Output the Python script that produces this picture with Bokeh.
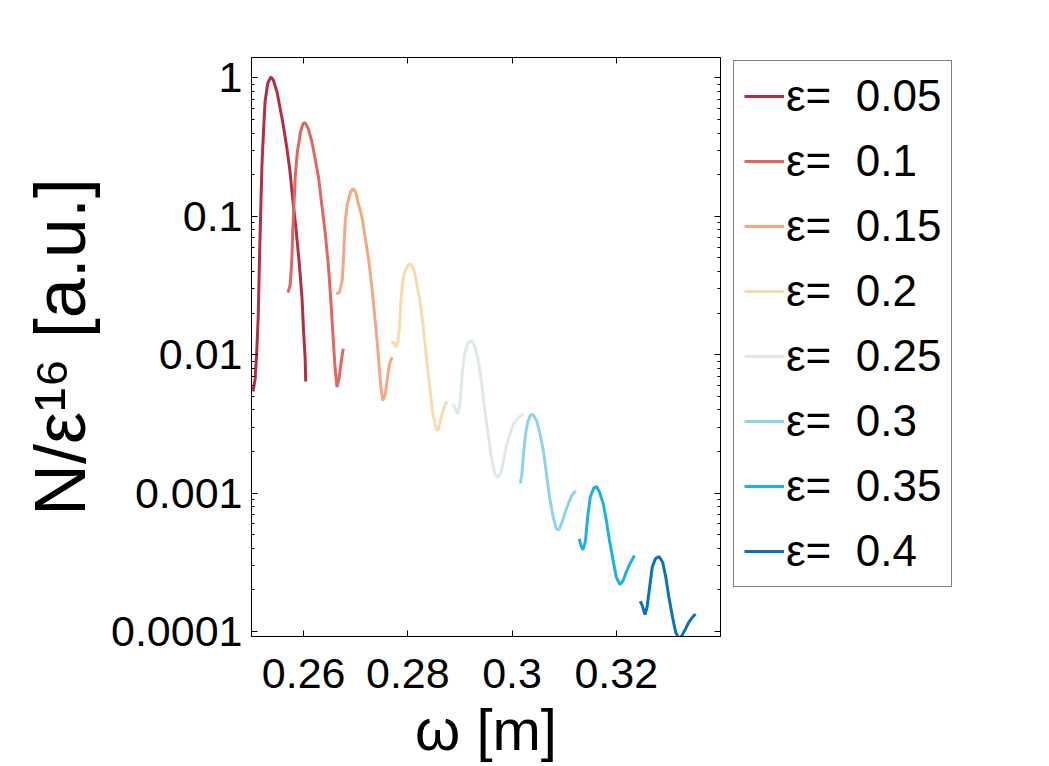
from bokeh.plotting import figure
from bokeh.layouts import row
from bokeh.models import (FixedTicker, LinearAxis, LogAxis, Legend, LegendItem,
                          Range1d, CustomJSTickFormatter)
from bokeh.embed import file_html
from bokeh.resources import INLINE

FONT = "Liberation Sans"

eps_labels = ["0.05", "0.1", "0.15", "0.2", "0.25", "0.3", "0.35", "0.4"]
colors = ["#B02F43", "#E06666", "#F3A883", "#F6DCAD", "#DDEBE2", "#8ED3EA", "#1CB1E4", "#0B72B5"]

omega_005 = [0.2503, 0.2507, 0.2510, 0.2513, 0.2515, 0.2518, 0.2520, 0.2523, 0.2526, 0.2531, 0.2537, 0.2542,
             0.2549, 0.2555, 0.2561, 0.2568, 0.2574, 0.2579, 0.2586, 0.2592, 0.2597, 0.2600, 0.2603, 0.2604]
N_005 = [0.00543, 0.00671, 0.01045, 0.01923, 0.04426, 0.1201, 0.2338, 0.407, 0.671, 0.911, 1.017, 0.9625,
         0.792, 0.6008, 0.455, 0.3087, 0.2091, 0.1343, 0.0770, 0.0442, 0.0254, 0.01457, 0.00935, 0.00641]

omega_010 = [0.2570, 0.2574, 0.2576, 0.2578, 0.2579, 0.2582, 0.2584, 0.2588, 0.2594, 0.2599, 0.2603, 0.2609,
             0.2616, 0.2622, 0.2629, 0.2635, 0.2642, 0.2648, 0.2652, 0.2656, 0.2660, 0.2664, 0.2668, 0.2672, 0.2676]
N_010 = [0.02807, 0.0317, 0.03956, 0.0552, 0.0770, 0.1343, 0.1979, 0.2916, 0.407, 0.468, 0.4758, 0.4306,
         0.3445, 0.2613, 0.1873, 0.1201, 0.0729, 0.04185, 0.0254, 0.01457, 0.00837, 0.00583, 0.00671, 0.00884, 0.01105]

omega_015 = [0.2663, 0.2669, 0.2674, 0.2676, 0.2678, 0.2680, 0.2684, 0.2690, 0.2695, 0.2700, 0.2705, 0.2712,
             0.2718, 0.2725, 0.2731, 0.2736, 0.2741, 0.2745, 0.2749, 0.2752, 0.2757, 0.2761, 0.2765, 0.2770]
N_015 = [0.02729, 0.02835, 0.03445, 0.0455, 0.0671, 0.0936, 0.1235, 0.1499, 0.1586, 0.1499, 0.1235, 0.0989,
         0.0709, 0.0481, 0.0308, 0.01979, 0.01269, 0.00814, 0.00552, 0.00467, 0.00522, 0.00689, 0.00861, 0.00961]

omega_020 = [0.2768, 0.2773, 0.2777, 0.2781, 0.2784, 0.2786, 0.2789, 0.2793, 0.2800, 0.2805, 0.2811,
             0.2816, 0.2823, 0.2829, 0.2835, 0.2842, 0.2848, 0.2855, 0.2859, 0.2864, 0.2870, 0.2875]
N_020 = [0.01213, 0.01233, 0.01135, 0.01233, 0.01583, 0.02209, 0.0308, 0.03852, 0.04424, 0.0455, 0.04185,
         0.03445, 0.0247, 0.01675, 0.01017, 0.00583, 0.00374, 0.002835, 0.002916, 0.003537, 0.00418, 0.004618]

omega_025 = [0.2887, 0.2891, 0.2896, 0.2899, 0.2902, 0.2905, 0.2909, 0.2915, 0.2922, 0.2928, 0.2935, 0.2941,
             0.2947, 0.2954, 0.2960, 0.2967, 0.2972, 0.2978, 0.2984, 0.2990, 0.2997, 0.3003, 0.3013, 0.3022]
N_025 = [0.00442, 0.00407, 0.00374, 0.00418, 0.00552, 0.0077, 0.01017, 0.01201, 0.01269, 0.01167, 0.0091, 0.00652,
         0.00418, 0.002684, 0.001818, 0.001379, 0.00129, 0.001379, 0.001721, 0.002273, 0.002756, 0.00317, 0.003537, 0.00374]

omega_030 = [0.3016, 0.3019, 0.3022, 0.3026, 0.3030, 0.3035, 0.3040, 0.3047, 0.3053, 0.3060,
             0.3066, 0.3072, 0.3079, 0.3085, 0.3090, 0.3096, 0.3102, 0.3109, 0.3115, 0.3122]
N_030 = [0.001179, 0.001379, 0.001924, 0.002684, 0.003256, 0.003639, 0.003701, 0.003349, 0.002756, 0.002032,
         0.001379, 0.000934, 0.000669, 0.000552, 0.000543, 0.000616, 0.000728, 0.000859, 0.000961, 0.001044]

omega_035 = [0.3129, 0.3132, 0.3136, 0.3141, 0.3145, 0.3150, 0.3157, 0.3162, 0.3168, 0.3175,
             0.3181, 0.3187, 0.3194, 0.3200, 0.3207, 0.3213, 0.3219, 0.3226, 0.3235]
N_035 = [0.000467, 0.000418, 0.000389, 0.000454, 0.000669, 0.000934, 0.001092, 0.001116, 0.001015, 0.000837,
         0.000634, 0.000454, 0.000326, 0.000247, 0.000218, 0.000233, 0.000268, 0.000308, 0.000354]

omega_040 = [0.3246, 0.3250, 0.3255, 0.3259, 0.3264, 0.3269, 0.3275, 0.3282, 0.3289, 0.3295,
             0.3301, 0.3308, 0.3314, 0.3320, 0.3326, 0.3333, 0.3339, 0.3346, 0.3352]
N_040 = [0.0001654, 0.0001539, 0.0001325, 0.0001496, 0.0002087, 0.0002912, 0.000335, 0.000348, 0.0003165, 0.000247,
         0.0001768, 0.0001267, 0.0000987, 0.000089, 0.0000934, 0.0001044, 0.0001165, 0.0001267, 0.000134]

x_ticks = [0.26, 0.28, 0.30, 0.32]
y_ticks = [0.0001, 0.001, 0.01, 0.1, 1]

omegas = [omega_005, omega_010, omega_015, omega_020, omega_025, omega_030, omega_035, omega_040]
Ns = [N_005, N_010, N_015, N_020, N_025, N_030, N_035, N_040]

y_minor = [k * 10.0 ** e for e in range(-5, 1) for k in range(2, 10)]

p = figure(frame_width=469, frame_height=579,
           min_border_left=251, min_border_right=10, min_border_top=57, min_border_bottom=130,
           y_axis_type="log", x_range=Range1d(0.25, 0.34), y_range=Range1d(9.2e-5, 1.405),
           output_backend="svg", toolbar_location=None)
p.grid.visible = False
p.outline_line_color = "black"
p.outline_line_width = 1
p.background_fill_color = "white"
p.border_fill_color = "white"

fmt = CustomJSTickFormatter(code="return tick.toString();")
blank = CustomJSTickFormatter(code="return '';")

def style_axis(ax, font_size="43px"):
    ax.axis_line_color = "black"
    ax.axis_line_width = 1
    ax.major_tick_in = 6
    ax.major_tick_out = 0
    ax.minor_tick_in = 3
    ax.minor_tick_out = 0
    ax.major_tick_line_color = "black"
    ax.minor_tick_line_color = "black"
    ax.major_label_text_font = FONT
    ax.major_label_text_font_size = font_size
    ax.major_label_text_color = "black"
    ax.axis_label_text_font = FONT
    ax.axis_label_text_font_style = "normal"
    ax.axis_label_text_color = "black"

xax = p.xaxis[0]
xax.ticker = FixedTicker(ticks=x_ticks, minor_ticks=[])
xax.formatter = fmt
style_axis(xax)
xax.major_label_standoff = 22
xax.axis_label = "ω [m]"
xax.axis_label_text_font_size = "58px"
xax.axis_label_standoff = 6

yax = p.yaxis[0]
yax.ticker = FixedTicker(ticks=y_ticks, minor_ticks=y_minor)
yax.formatter = fmt
style_axis(yax)
yax.major_label_standoff = 9
yax.axis_label = "N/ε¹⁶ [a.u.]"
yax.axis_label_text_font_size = "72px"
yax.axis_label_standoff = 8

top_ax = LinearAxis(ticker=FixedTicker(ticks=x_ticks, minor_ticks=[]), formatter=blank)
style_axis(top_ax, "1px")
top_ax.major_label_standoff = 0
p.add_layout(top_ax, "above")

right_ax = LogAxis(ticker=FixedTicker(ticks=y_ticks, minor_ticks=y_minor), formatter=blank)
style_axis(right_ax, "1px")
right_ax.major_label_standoff = 0
p.add_layout(right_ax, "right")

for om, nv, col in zip(omegas, Ns, colors):
    p.line(om, nv, line_color=col, line_width=3)

# legend panel: a separate figure so the legend is not clipped by the plot frame.
# Its ranges are far from the data, so its copies of the curves stay out of view.
q = figure(width=319, height=766, min_border=0, x_range=Range1d(10, 11), y_range=Range1d(10, 11),
           x_axis_location=None, y_axis_location=None, output_backend="svg", toolbar_location=None)
q.grid.visible = False
q.outline_line_color = None
q.background_fill_color = "white"
q.border_fill_color = "white"

items = []
for om, nv, col, lab in zip(omegas, Ns, colors, eps_labels):
    r = q.line(om, nv, line_color=col, line_width=3)
    items.append(LegendItem(label="ε=\u00a0\u00a0" + lab, renderers=[r]))

legend = Legend(items=items, location=(3, 49), margin=0, padding=10, spacing=15,
                glyph_width=40, glyph_height=40, label_height=40, label_standoff=2,
                label_text_font=FONT, label_text_font_size="44px", label_text_color="black",
                border_line_color="black", border_line_width=1, background_fill_color="white",
                background_fill_alpha=1.0)
q.add_layout(legend, "center")

layout = row(p, q, spacing=0)
open("out.html", "w").write(file_html(layout, INLINE))
